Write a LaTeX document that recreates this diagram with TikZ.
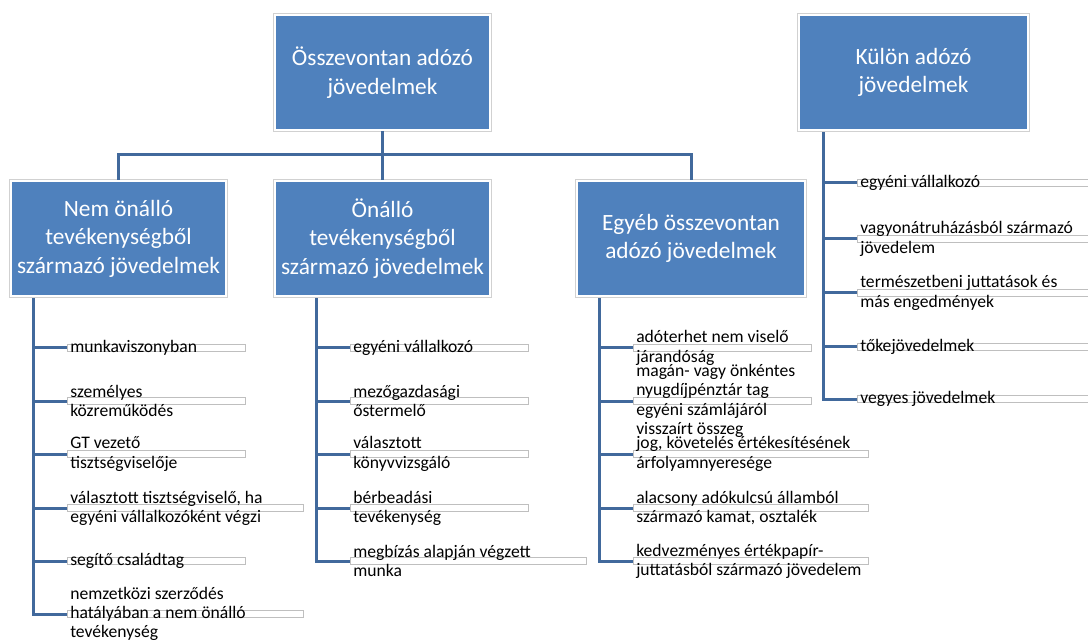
\documentclass[tikz,border=0pt]{standalone}
\usepackage{fontspec}
\setmainfont{Carlito}
\definecolor{boxblue}{HTML}{4F81BD}
\definecolor{linkblue}{HTML}{41699C}
\definecolor{leafgray}{HTML}{BFBFBF}
\begin{document}
\begin{tikzpicture}[x=0.75pt,y=-0.75pt,
  box/.style={fill=boxblue, draw=white, line width=1.5pt,
    preaction={draw=black!18, line width=3pt},
    text=white, align=center, font=\fontsize{17.5}{21.4}\selectfont,
    inner sep=0pt, minimum height=86.25pt},
  conn/.style={draw=linkblue, line width=2.25pt},
  leaf/.style={draw=leafgray, fill=white, line width=0.6pt, inner sep=0pt,
    minimum height=5.25pt, anchor=west, minimum width={#1*0.75pt}},
  leaftext/.style={anchor=west, align=left, inner sep=0pt,
    font=\fontsize{13.2}{14.4}\selectfont, text=black}]
\fill[white] (0,0) rectangle (1088,641);
\useasboundingbox (0,0) rectangle (1088,641);

% leaf bars
\node[leaf=178] (a1) at (67,348) {};
\node[leaf=178] (a2) at (67,401) {};
\node[leaf=178] (a3) at (67,454) {};
\node[leaf=236] (a4) at (67,508) {};
\node[leaf=178] (a5) at (67,561) {};
\node[leaf=236] (a6) at (67,614) {};

\node[leaf=178] (b1) at (350,348) {};
\node[leaf=178] (b2) at (350,401) {};
\node[leaf=178] (b3) at (350,454) {};
\node[leaf=178] (b4) at (350,508) {};
\node[leaf=236] (b5) at (350,561) {};

\node[leaf=178] (c1) at (633,348) {};
\node[leaf=178] (c2) at (633,401) {};
\node[leaf=235] (c3) at (633,454) {};
\node[leaf=235] (c4) at (633,508) {};
\node[leaf=235] (c5) at (633,561) {};

\node[leaf=236] (d1) at (857,183) {};
\node[leaf=236] (d2) at (857,239) {};
\node[leaf=236] (d3) at (857,293) {};
\node[leaf=236] (d4) at (857,347) {};
\node[leaf=236] (d5) at (857,399) {};

% spine starts
\coordinate (s1) at (33,297);
\coordinate (s2) at (316,297);
\coordinate (s3) at (599,297);
\coordinate (s4) at (823,131);
\coordinate (bus) at (382.5,155);

% connectors
\foreach \n in {a1,a2,a3,a4,a5,a6} \draw[conn] (s1) |- (\n.west);
\foreach \n in {b1,b2,b3,b4,b5} \draw[conn] (s2) |- (\n.west);
\foreach \n in {c1,c2,c3,c4,c5} \draw[conn] (s3) |- (\n.west);
\foreach \n in {d1,d2,d3,d4,d5} \draw[conn] (s4) |- (\n.west);

% boxes
\node[box, minimum width=161.25pt] (top) at (382.5,72.5) {Összevontan adózó\\jövedelmek};
\node[box, minimum width=171.75pt] (kulon) at (913.5,72.5) {Külön adózó\\jövedelmek};
\node[box, minimum width=161.25pt] (nem) at (118.5,238.5) {Nem önálló\\tevékenységből\\származó jövedelmek};
\node[box, minimum width=161.25pt] (onallo) at (382.5,238.5) {Önálló\\tevékenységből\\származó jövedelmek};
\node[box, minimum width=171pt] (egyeb) at (691,238.5) {Egyéb összevontan\\adózó jövedelmek};

\draw[conn] (top.south) -- (onallo.north);
\draw[conn] (nem.north) |- (bus);
\draw[conn] (egyeb.north) |- (bus);

% leaf texts
\node[leaftext] (ta1) at (70,348) {munkaviszonyban};
\node[leaftext] (ta2) at (70,401) {személyes\\közreműködés};
\node[leaftext] (ta3) at (70,454) {GT vezető\\tisztségviselője};
\node[leaftext] (ta4) at (70,508) {választott tisztségviselő, ha\\egyéni vállalkozóként végzi};
\node[leaftext] (ta5) at (70,561) {segítő családtag};
\node[leaftext] (ta6) at (70,614) {nemzetközi szerződés\\hatályában a nem önálló\\tevékenység};

\node[leaftext] (tb1) at (353,348) {egyéni vállalkozó};
\node[leaftext] (tb2) at (353,401) {mezőgazdasági\\őstermelő};
\node[leaftext] (tb3) at (353,454) {választott\\könyvvizsgáló};
\node[leaftext] (tb4) at (353,508) {bérbeadási\\tevékenység};
\node[leaftext] (tb5) at (353,561) {megbízás alapján végzett\\munka};

\node[leaftext] (tc1) at (636,348) {adóterhet nem viselő\\járandóság};
\node[leaftext] (tc2) at (636,401) {magán- vagy önkéntes\\nyugdíjpénztár tag\\egyéni számlájáról\\visszaírt összeg};
\node[leaftext] (tc3) at (636,454) {jog, követelés értékesítésének\\árfolyamnyeresége};
\node[leaftext] (tc4) at (636,508) {alacsony adókulcsú államból\\származó kamat, osztalék};
\node[leaftext] (tc5) at (636,561) {kedvezményes értékpapír-\\juttatásból származó jövedelem};

\node[leaftext] (td1) at (860,183) {egyéni vállalkozó};
\node[leaftext] (td2) at (860,239) {vagyonátruházásból származó\\jövedelem};
\node[leaftext] (td3) at (860,293) {természetbeni juttatások és\\más engedmények};
\node[leaftext] (td4) at (860,347) {tőkejövedelmek};
\node[leaftext] (td5) at (860,399) {vegyes jövedelmek};
\end{tikzpicture}
\end{document}
